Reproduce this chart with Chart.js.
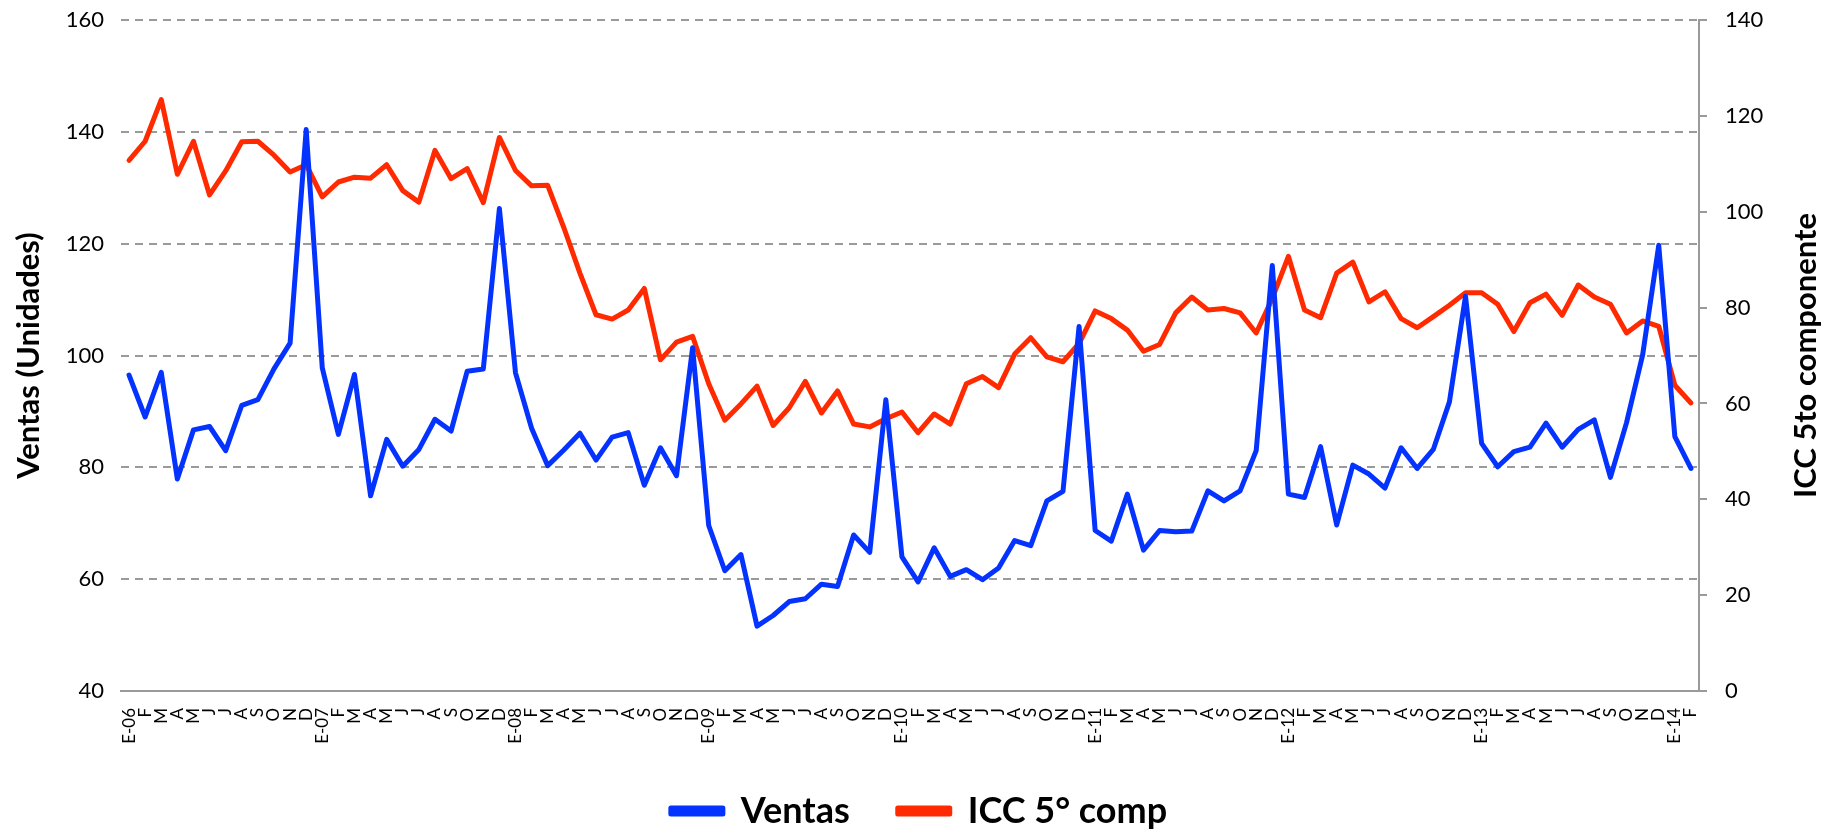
<!DOCTYPE html>
<html>
<head>
<meta charset="utf-8">
<script src="https://cdn.jsdelivr.net/npm/chart.js@4.4.0/dist/chart.umd.min.js"></script>
<style>
  html, body { margin: 0; padding: 0; background: #fff; }
  #wrap { width: 1838px; height: 833px; }
</style>
</head>
<body>
<div id="wrap"><canvas id="ventasIcc" width="1838" height="833"></canvas></div>
<script>
  // etiquetas del eje X: E-06, F, M ... D, E-07 ... E-14, F
  let anios = ['06', '07', '08', '09', '10', '11', '12', '13', '14'];
  let meses = ['E', 'F', 'M', 'A', 'M', 'J', 'J', 'A', 'S', 'O', 'N', 'D'];
  let mesesUltimoAnio = 2;

  // Ventas (Unidades), eje izquierdo
  let ventas = [
    96.5, 89.0, 97.0, 77.9, 86.7, 87.3, 83.0, 91.1, 92.1, 97.6, 102.2, 140.4,
    97.8, 85.9, 96.6, 74.9, 85.0, 80.2, 83.2, 88.6, 86.5, 97.2, 97.6, 126.3,
    96.9, 87.0, 80.3, 83.1, 86.1, 81.3, 85.4, 86.2, 76.8, 83.5, 78.5, 101.4,
    69.6, 61.5, 64.4, 51.6, 53.5, 56.0, 56.5, 59.1, 58.7, 67.9, 64.8, 92.1,
    64.0, 59.5, 65.6, 60.5, 61.7, 59.9, 62.0, 66.9, 66.0, 74.0, 75.7, 105.2,
    68.7, 66.8, 75.2, 65.2, 68.7, 68.5, 68.6, 75.8, 74.0, 75.8, 83.0, 116.1,
    75.2, 74.6, 83.7, 69.7, 80.4, 78.8, 76.3, 83.5, 79.8, 83.2, 91.7, 110.6,
    84.3, 80.1, 82.8, 83.6, 87.9, 83.6, 86.8, 88.5, 78.2, 88.0, 100.1, 119.7,
    85.5, 79.8
  ];

  // ICC 5to componente, eje derecho
  let icc5 = [
    110.7, 114.7, 123.4, 107.8, 114.7, 103.5, 108.5, 114.6, 114.7, 111.8, 108.3, 109.8,
    103.1, 106.2, 107.2, 107.0, 109.8, 104.4, 102.0, 112.8, 106.9, 109.0, 101.9, 115.5,
    108.6, 105.4, 105.5, 96.7, 87.2, 78.5, 77.6, 79.5, 84.0, 69.1, 72.8, 74.0,
    64.1, 56.5, 59.9, 63.6, 55.4, 59.1, 64.6, 58.0, 62.6, 55.7, 55.1, 56.8,
    58.2, 53.9, 57.8, 55.7, 64.1, 65.6, 63.3, 70.3, 73.7, 69.7, 68.7, 72.5,
    79.3, 77.7, 75.3, 70.9, 72.3, 78.9, 82.2, 79.5, 79.8, 78.9, 74.7, 81.9,
    90.7, 79.5, 77.9, 87.2, 89.5, 81.2, 83.3, 77.7, 75.8, 78.1, 80.5, 83.1,
    83.1, 80.7, 75.0, 81.0, 82.8, 78.4, 84.7, 82.2, 80.7, 74.7, 77.2, 76.1,
    63.8, 60.1
  ];

  let etiquetas = [];
  anios.forEach(function (a, k) {
    let n = (k == anios.length - 1) ? mesesUltimoAnio : 12;
    for (let m = 0; m < n; m++) {
      etiquetas.push(m == 0 ? 'E-' + a : meses[m]);
    }
  });

  const gris = '#9a9a9a';
  const azul = '#0433ff';
  const rojo = '#ff2a00';

  // titulo del eje derecho, leido de abajo hacia arriba como en Excel
  const tituloDerecho = {
    id: 'tituloDerecho',
    afterDraw(chart) {
      let ctx = chart.ctx;
      let area = chart.chartArea;
      ctx.save();
      ctx.translate(1806, (area.top + area.bottom) / 2);
      ctx.rotate(-Math.PI / 2);
      ctx.font = 'bold 31px Lato';
      ctx.fillStyle = '#000';
      ctx.textAlign = 'center';
      ctx.textBaseline = 'middle';
      ctx.fillText('ICC 5to componente', 0, 0);
      ctx.restore();
    }
  };

  let ctx = document.getElementById('ventasIcc').getContext('2d');
  let grafico = new Chart(ctx, {
    type: 'line',
    data: {
      labels: etiquetas,
      datasets: [{
        label: 'Ventas',
        data: ventas,
        yAxisID: 'y',
        borderColor: azul,
        backgroundColor: azul,
        borderWidth: 5,
        pointRadius: 0,
        tension: 0,
        borderJoinStyle: 'round',
        borderCapStyle: 'round'
      }, {
        label: 'ICC 5° comp',
        data: icc5,
        yAxisID: 'y2',
        borderColor: rojo,
        backgroundColor: rojo,
        borderWidth: 5,
        pointRadius: 0,
        tension: 0,
        borderJoinStyle: 'round',
        borderCapStyle: 'round'
      }]
    },
    options: {
      responsive: false,
      animation: false,
      layout: { padding: { top: 20, left: 0, right: 0, bottom: -6 } },
      plugins: {
        tooltip: { enabled: false },
        legend: {
          display: true,
          position: 'bottom',
          maxHeight: 94,
          labels: {
            color: '#000',
            font: { family: 'Lato', size: 36, weight: 'bold' },
            boxWidth: 52,
            boxHeight: 6,
            padding: 48
          }
        }
      },
      scales: {
        x: {
          offset: true,
          grid: { display: false },
          border: { display: true, color: gris, width: 2 },
          ticks: {
            color: '#000',
            font: { family: 'Lato', size: 17 },
            autoSkip: false,
            maxRotation: 90,
            minRotation: 90,
            padding: 9
          },
          afterFit: function (scale) { scale.height = 54; }
        },
        y: {
          position: 'left',
          min: 40,
          max: 160,
          ticks: {
            stepSize: 20,
            color: '#000',
            font: { family: 'Lato', size: 22 },
            padding: 17
          },
          grid: { color: gris, lineWidth: 2, drawTicks: false },
          border: { display: false, dash: [8, 6] },
          title: {
            display: true,
            text: 'Ventas (Unidades)',
            color: '#000',
            font: { family: 'Lato', size: 31, weight: 'bold' },
            padding: { top: 10, bottom: 0 }
          },
          afterFit: function (scale) {
            scale.width = 121;
            scale.paddingTop = 0;
            scale.paddingBottom = 0;
          }
        },
        y2: {
          position: 'right',
          min: 0,
          max: 140,
          ticks: {
            stepSize: 20,
            color: '#000',
            font: { family: 'Lato', size: 22 },
            padding: 18
          },
          grid: { drawOnChartArea: false, color: gris, lineWidth: 2, tickLength: 8 },
          border: { display: true, color: gris, width: 2 },
          afterFit: function (scale) {
            scale.width = 139;
            scale.paddingTop = 0;
            scale.paddingBottom = 0;
          }
        }
      }
    },
    plugins: [tituloDerecho]
  });
</script>
</body>
</html>
